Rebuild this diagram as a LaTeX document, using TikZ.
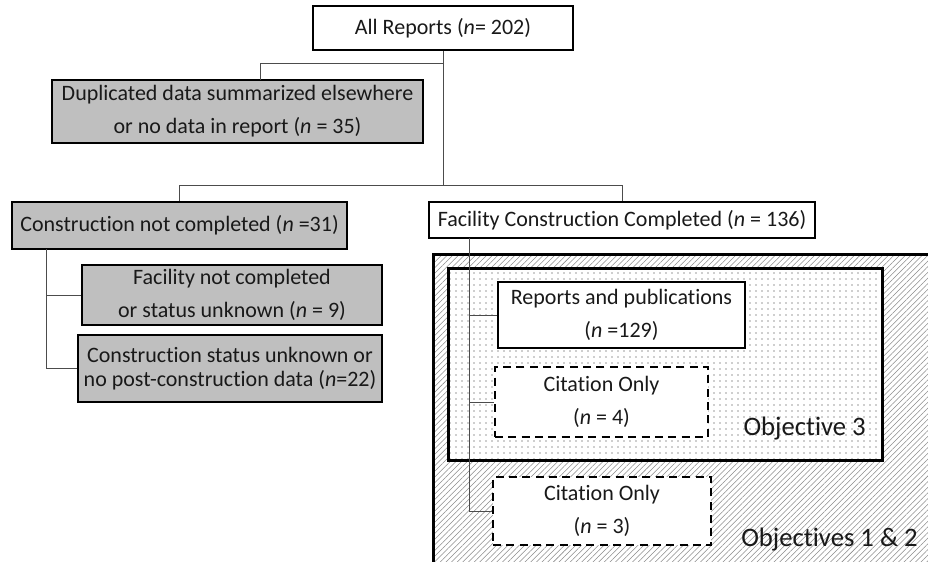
\documentclass[tikz,border=0pt]{standalone}
\usepackage{fontspec}
\setmainfont[Ligatures=NoCommon]{Carlito}
\usetikzlibrary{patterns.meta}

\begin{document}
\begin{tikzpicture}[x=0.75pt,y=-0.75pt,
    entry/.style={draw,line width=1.5pt,inner sep=0pt,align=center,text=black!90,
      font=\fontsize{16.5}{24.75}\selectfont},
    greyentry/.style={entry,fill=black!25},
    citeentry/.style={entry,fill=white,dash pattern=on 6pt off 4pt},
    link/.style={draw=black!70,line width=0.75pt},
    objlabel/.style={inner sep=0pt,text=black!90,font=\fontsize{20}{24}\selectfont}]
  \useasboundingbox (0,0) rectangle (928,561);
  % objective regions
  \begin{scope}
    \clip (0,0) rectangle (928,561);
    \draw[line width=2.25pt,preaction={fill=white},
      pattern={Lines[angle=45,distance=3pt,line width=0.4pt]},pattern color=black!45]
      (433,254) rectangle (945,580);
    \draw[line width=2.25pt,preaction={fill=white},
      pattern={Dots[distance=4.5pt,radius=0.55pt]},pattern color=black!80]
      (448,268) rectangle (882,460);
  \end{scope}
  \draw
    (443,28) node[entry,fill=white,minimum width=195pt,minimum height=33pt] (all){All Reports (\textit{n}= 202)}
    (237.5,111.5) node[greyentry,minimum width=278.25pt,minimum height=47.25pt] (dup){Duplicated data summarized elsewhere\\or no data in report (\textit{n} = 35)}
    (179.5,225.5) node[greyentry,minimum width=251.25pt,minimum height=35.25pt] (cnc){Construction not completed (\textit{n} =31)}
    (622,220) node[entry,fill=white,minimum width=289.5pt,minimum height=27pt] (fcc){Facility Construction Completed (\textit{n} = 136)}
    (232,295) node[greyentry,minimum width=225pt,minimum height=45pt] (fnc){Facility not completed\\or status unknown (\textit{n} = 9)}
    (230,368.5) node[greyentry,minimum width=228pt,minimum height=50.25pt,font=\fontsize{16.5}{17.5}\selectfont] (csu){Construction status unknown or\\no post-construction data (\textit{n}=22)}
    (621.5,315) node[entry,fill=white,minimum width=185.25pt,minimum height=49.5pt] (rep){Reports and publications\\(\textit{n} =129)}
    (601.5,402) node[citeentry,minimum width=159.75pt,minimum height=52.5pt] (cit1){Citation Only\\(\textit{n} = 4)}
    (602,511) node[citeentry,minimum width=163.5pt,minimum height=51pt] (cit2){Citation Only\\(\textit{n} = 3)};
  \node[objlabel,anchor=east] (obj3) at (866,429) {Objective 3};
  \node[objlabel,anchor=east] (obj12) at (918,540) {Objectives 1 \& 2};
  % branches
  \coordinate (top) at (443,63);
  \coordinate (mid) at (443,185);
  \coordinate (dupin) at (260,80);
  \coordinate (cncfoot) at (46,249);
  \coordinate (fccfoot) at (469,238);
  \begin{scope}[link]
    \draw (all) -- (mid);
    \draw (top) -| (dupin);
    \draw (mid) -| (cnc);
    \draw (mid) -| (fcc);
    \draw (cncfoot) |- (fnc);
    \draw (cncfoot) |- (csu);
    \draw (fccfoot) |- (rep);
    \draw (fccfoot) |- (cit1);
    \draw (fccfoot) |- (cit2);
  \end{scope}
\end{tikzpicture}
\end{document}
